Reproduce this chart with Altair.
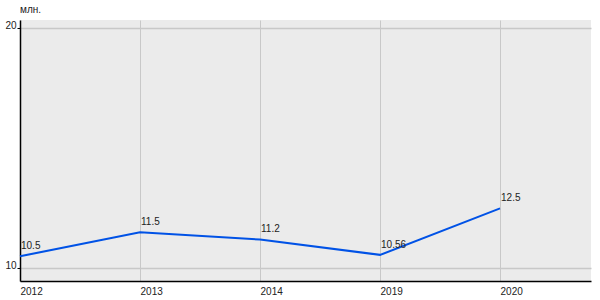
import altair as alt
import pandas as pd

years = ["2012", "2013", "2014", "2019", "2020"]
values = [10.5, 11.5, 11.2, 10.56, 12.5]
labels = ["10.5", "11.5", "11.2", "10.56", "12.5"]
unit = "млн."

df = pd.DataFrame({"idx": list(range(len(years))), "year": years, "value": values, "label": labels})

font = "Liberation Sans"
label_expr = "[" + ",".join("'%s'" % y for y in years) + "][datum.value]"

x = alt.X("idx:Q",
          scale=alt.Scale(domain=[0, 4.758], nice=False, zero=False),
          axis=alt.Axis(values=list(range(len(years))), labelExpr=label_expr, title=None,
                        ticks=False, grid=True, gridColor="#c8c8c8", gridWidth=1,
                        domainColor="#000000", domainWidth=1.5, labelAlign="left",
                        labelBaseline="top", labelPadding=5, labelFont=font, labelFontSize=10,
                        labelColor="#222222", labelFlush=False))
y = alt.Y("value:Q",
          scale=alt.Scale(domain=[9.47, 20.35], nice=False, zero=False),
          axis=alt.Axis(values=[10, 20], title=None,
                        grid=True, gridColor="#c8c8c8", gridWidth=1.5, tickSize=3,
                        tickColor="#000000", domainColor="#000000", domainWidth=1.5,
                        labelPadding=1, labelBaseline="alphabetic", labelFont=font,
                        labelFontSize=10, labelColor="#222222"))

base = alt.Chart(df)
line = base.mark_line(color="#0052e6", strokeWidth=2).encode(x=x, y=y)
text = base.mark_text(align="left", baseline="alphabetic", dx=1, dy=-7, font=font,
                      fontSize=10, color="#222222").encode(x=x, y=y, text="label:N")

chart = (line + text).properties(
    width=571, height=261,
    background="#ffffff",
    title=alt.TitleParams(text=unit, anchor="start", frame="group", font=font, fontSize=10,
                          fontWeight="normal", color="#222222", offset=5),
    padding={"left": 20, "top": 20, "right": 9, "bottom": 19},
    autosize=alt.AutoSizeParams(type="none"),
).configure_view(fill="#ebebeb", stroke=None)

chart.save("out.html", embed_options={"renderer": "svg", "actions": False})
